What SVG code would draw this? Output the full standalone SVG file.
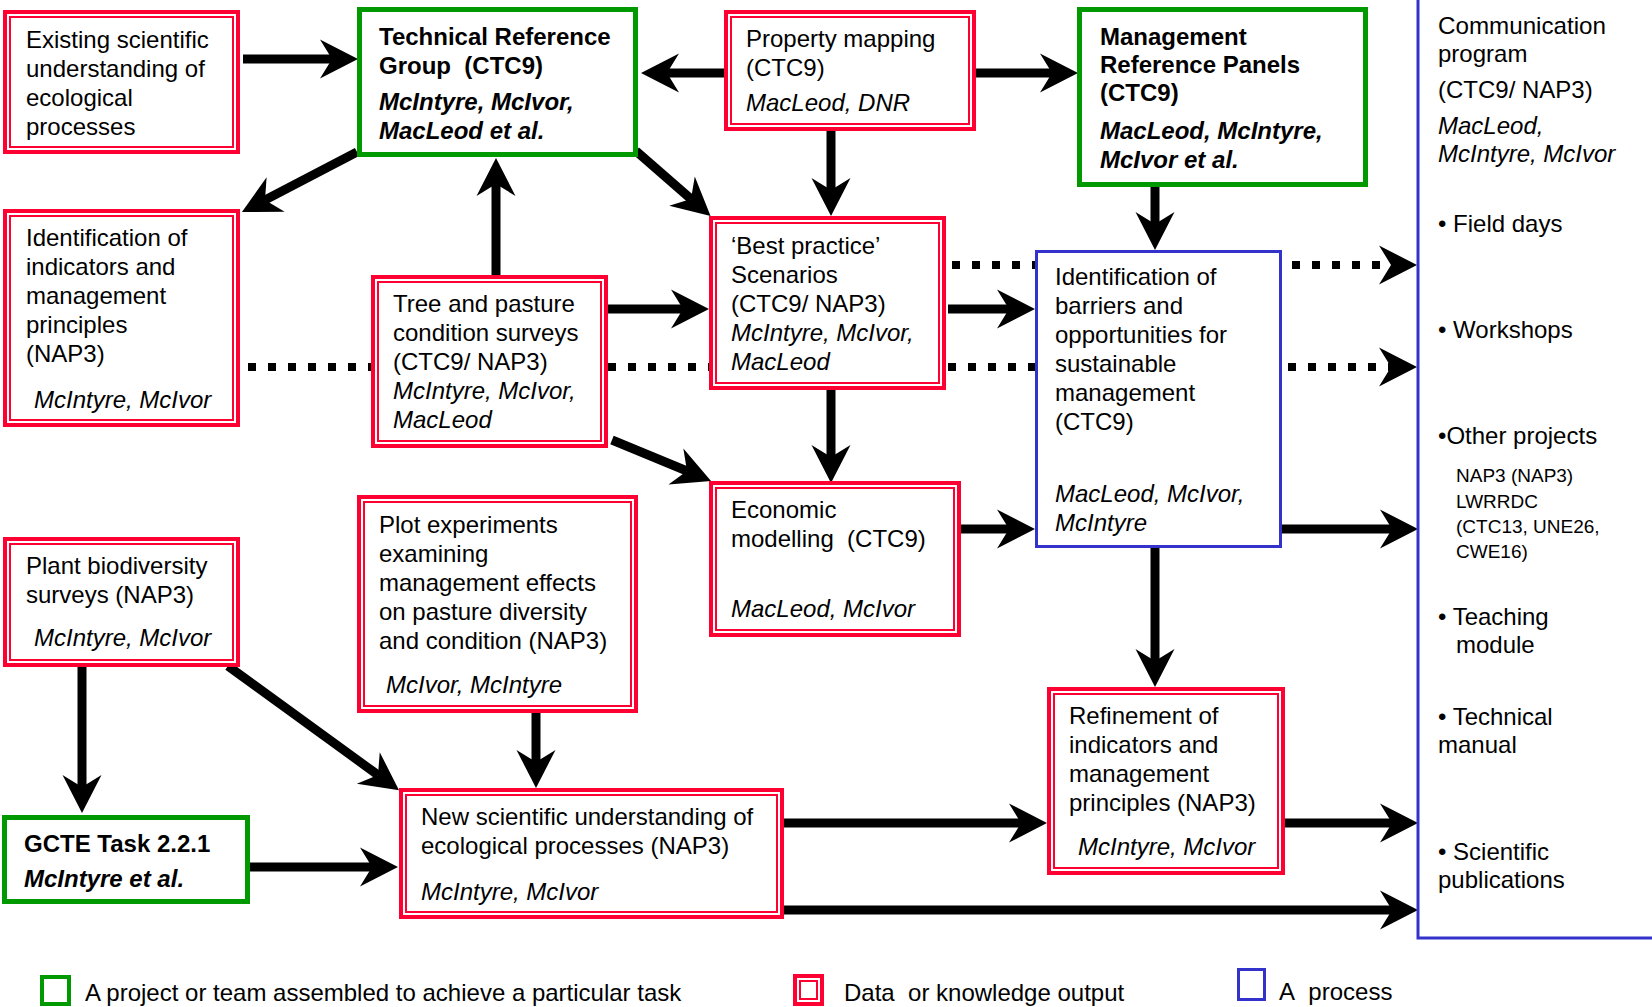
<svg xmlns="http://www.w3.org/2000/svg" width="1652" height="1007" viewBox="0 0 1652 1007">
<style>
text { font-family: "Liberation Sans", Arial, Helvetica, sans-serif; font-size: 24px; fill: #000; }
.i { font-style: italic; }
.bd { font-weight: bold; }
.sm { font-size: 19px; }
.r1 { fill: #fff; stroke: #ff0033; stroke-width: 4; }
.r2 { fill: none; stroke: #ff0033; stroke-width: 2; }
.gr { fill: #fff; stroke: #009900; stroke-width: 5; }
.bl { fill: #fff; stroke: #3333cc; stroke-width: 3; }
.c { fill: none; stroke: #000; stroke-width: 9; marker-end: url(#ah); }
.d { fill: none; stroke: #000; stroke-width: 8; stroke-dasharray: 8 12; marker-end: url(#ah); }
</style>
<defs>
<marker id="ah" markerUnits="userSpaceOnUse" viewBox="-13 -20 40 40" markerWidth="40" markerHeight="40" refX="0" refY="0" orient="auto">
<path d="M-12,-19.5 L26,0 L-12,19.5 L0,0 Z" fill="#000"/>
</marker>
</defs>
<rect width="1652" height="1007" fill="#fff"/>

<g id="connectors">
<path class="d" d="M248,367 H1391"/>
<path class="d" d="M952,265 H1391"/>
<path class="c" d="M243,59 H332"/>
<path class="c" d="M724,73 H667"/>
<path class="c" d="M976,73 H1052"/>
<path class="c" d="M357,152 L265,200"/>
<path class="c" d="M496,277 V184"/>
<path class="c" d="M636,151 L691,199"/>
<path class="c" d="M831,131 V190"/>
<path class="c" d="M608,309 H683"/>
<path class="c" d="M612,440 L687,471"/>
<path class="c" d="M831,390 V457"/>
<path class="c" d="M948,309 H1009"/>
<path class="c" d="M961,529 H1009"/>
<path class="c" d="M1155,187 V224"/>
<path class="c" d="M1155,548 V661"/>
<path class="c" d="M1282,529 H1392"/>
<path class="c" d="M82,667 V787"/>
<path class="c" d="M228,666 L378,775"/>
<path class="c" d="M536,712 V762"/>
<path class="c" d="M250,867 H372"/>
<path class="c" d="M784,823 H1021"/>
<path class="c" d="M1285,823 H1392"/>
<path class="c" d="M784,910 H1392"/>
</g>

<g id="existing">
<rect class="r1" x="5" y="12" width="233" height="140"/>
<rect class="r2" x="10" y="17" width="223" height="130"/>
<text x="26" y="48">Existing scientific</text>
<text x="26" y="77">understanding of</text>
<text x="26" y="106">ecological</text>
<text x="26" y="135">processes</text>
</g>

<g id="trg">
<rect class="gr" x="359.5" y="9.5" width="276" height="145"/>
<text class="bd" x="379" y="45">Technical Reference</text>
<text class="bd" x="379" y="74">Group&#160; (CTC9)</text>
<text class="bd i" x="379" y="110">McIntyre, McIvor,</text>
<text class="bd i" x="379" y="139">MacLeod et al.</text>
</g>

<g id="property">
<rect class="r1" x="726" y="12" width="248" height="117"/>
<rect class="r2" x="731" y="17" width="238" height="107"/>
<text x="746" y="47">Property mapping</text>
<text x="746" y="76">(CTC9)</text>
<text class="i" x="746" y="111">MacLeod, DNR</text>
</g>

<g id="mrp">
<rect class="gr" x="1079.5" y="9.5" width="286" height="175"/>
<text class="bd" x="1100" y="45">Management</text>
<text class="bd" x="1100" y="73">Reference Panels</text>
<text class="bd" x="1100" y="101">(CTC9)</text>
<text class="bd i" x="1100" y="139">MacLeod, McIntyre,</text>
<text class="bd i" x="1100" y="168">McIvor et al.</text>
</g>

<g id="indicators">
<rect class="r1" x="5" y="211" width="233" height="214"/>
<rect class="r2" x="10" y="216" width="223" height="204"/>
<text x="26" y="246">Identification of</text>
<text x="26" y="275">indicators and</text>
<text x="26" y="304">management</text>
<text x="26" y="333">principles</text>
<text x="26" y="362">(NAP3)</text>
<text class="i" x="34" y="408">McIntyre, McIvor</text>
</g>

<g id="tree">
<rect class="r1" x="373" y="277" width="233" height="169"/>
<rect class="r2" x="378" y="282" width="223" height="159"/>
<text x="393" y="312">Tree and pasture</text>
<text x="393" y="341">condition surveys</text>
<text x="393" y="370">(CTC9/ NAP3)</text>
<text class="i" x="393" y="399">McIntyre, McIvor,</text>
<text class="i" x="393" y="428">MacLeod</text>
</g>

<g id="bestpractice">
<rect class="r1" x="711" y="218" width="233" height="170"/>
<rect class="r2" x="716" y="223" width="223" height="160"/>
<text x="731" y="254">‘Best practice’</text>
<text x="731" y="283">Scenarios</text>
<text x="731" y="312">(CTC9/ NAP3)</text>
<text class="i" x="731" y="341">McIntyre, McIvor,</text>
<text class="i" x="731" y="370">MacLeod</text>
</g>

<g id="barriers">
<rect class="bl" x="1036.5" y="251.5" width="244" height="295"/>
<text x="1055" y="285">Identification of</text>
<text x="1055" y="314">barriers and</text>
<text x="1055" y="343">opportunities for</text>
<text x="1055" y="372">sustainable</text>
<text x="1055" y="401">management</text>
<text x="1055" y="430">(CTC9)</text>
<text class="i" x="1055" y="502">MacLeod, McIvor,</text>
<text class="i" x="1055" y="531">McIntyre</text>
</g>

<g id="economic">
<rect class="r1" x="711" y="483" width="248" height="152"/>
<rect class="r2" x="716" y="488" width="238" height="142"/>
<text x="731" y="518">Economic</text>
<text x="731" y="547">modelling&#160; (CTC9)</text>
<text class="i" x="731" y="617">MacLeod, McIvor</text>
</g>

<g id="plot">
<rect class="r1" x="359" y="497" width="277" height="214"/>
<rect class="r2" x="364" y="502" width="267" height="204"/>
<text x="379" y="533">Plot experiments</text>
<text x="379" y="562">examining</text>
<text x="379" y="591">management effects</text>
<text x="379" y="620">on pasture diversity</text>
<text x="379" y="649">and condition (NAP3)</text>
<text class="i" x="386" y="693">McIvor, McIntyre</text>
</g>

<g id="plant">
<rect class="r1" x="5" y="539" width="233" height="126"/>
<rect class="r2" x="10" y="544" width="223" height="116"/>
<text x="26" y="574">Plant biodiversity</text>
<text x="26" y="603">surveys (NAP3)</text>
<text class="i" x="34" y="646">McIntyre, McIvor</text>
</g>

<g id="gcte">
<rect class="gr" x="4.5" y="817.5" width="243" height="84"/>
<text class="bd" x="24" y="852">GCTE Task 2.2.1</text>
<text class="bd i" x="24" y="887">McIntyre et al.</text>
</g>

<g id="newsci">
<rect class="r1" x="401" y="790" width="381" height="127"/>
<rect class="r2" x="406" y="795" width="371" height="117"/>
<text x="421" y="825">New scientific understanding of</text>
<text x="421" y="854">ecological processes (NAP3)</text>
<text class="i" x="421" y="900">McIntyre, McIvor</text>
</g>

<g id="refinement">
<rect class="r1" x="1049" y="689" width="234" height="184"/>
<rect class="r2" x="1054" y="694" width="224" height="174"/>
<text x="1069" y="724">Refinement of</text>
<text x="1069" y="753">indicators and</text>
<text x="1069" y="782">management</text>
<text x="1069" y="811">principles (NAP3)</text>
<text class="i" x="1078" y="855">McIntyre, McIvor</text>
</g>

<g id="communication">
<path d="M1418,0 V938 H1652" fill="none" stroke="#3333cc" stroke-width="3"/>
<text x="1438" y="34" textLength="168" lengthAdjust="spacingAndGlyphs">Communication</text>
<text x="1438" y="62">program</text>
<text x="1438" y="98">(CTC9/ NAP3)</text>
<text class="i" x="1438" y="134">MacLeod,</text>
<text class="i" x="1438" y="162">McIntyre, McIvor</text>
<text x="1438" y="232">• Field days</text>
<text x="1438" y="338">• Workshops</text>
<text x="1438" y="444">•Other projects</text>
<text class="sm" x="1456" y="482">NAP3 (NAP3)</text>
<text class="sm" x="1456" y="508">LWRRDC</text>
<text class="sm" x="1456" y="533">(CTC13, UNE26,</text>
<text class="sm" x="1456" y="558">CWE16)</text>
<text x="1438" y="625">• Teaching</text>
<text x="1456" y="653">module</text>
<text x="1438" y="725">• Technical</text>
<text x="1438" y="753">manual</text>
<text x="1438" y="860">• Scientific</text>
<text x="1438" y="888">publications</text>
</g>

<g id="legend">
<rect x="42" y="977" width="27" height="27" fill="#fff" stroke="#009900" stroke-width="4"/>
<text x="85" y="1001">A project or team assembled to achieve a particular task</text>
<rect class="r1" x="795" y="976" width="27" height="28"/>
<rect class="r2" x="800" y="981" width="17" height="18"/>
<text x="844" y="1001">Data&#160; or knowledge output</text>
<rect x="1238.5" y="969.5" width="26" height="30" fill="#fff" stroke="#3333cc" stroke-width="3"/>
<text x="1279" y="1000">A&#160; process</text>
</g>
</svg>
